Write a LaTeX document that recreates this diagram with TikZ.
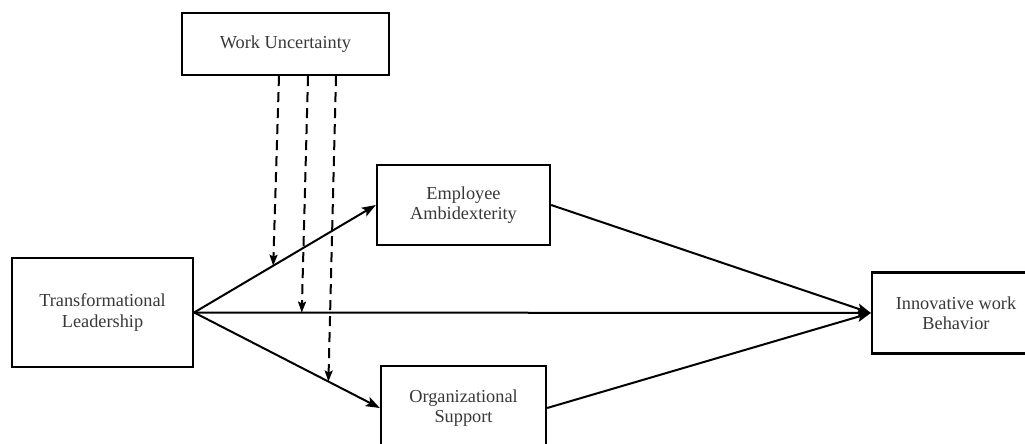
\documentclass[tikz,border=0pt]{standalone}
\usepackage{fontspec}
\setmainfont{Liberation Serif}
\usetikzlibrary{arrows.meta,calc}
\begin{document}
\begin{tikzpicture}[x=1pt,y=-1pt,
  box/.style={draw=black,line width=2.3pt,rectangle,align=center,inner sep=0pt,
    text=black!78,font=\fontsize{18.3}{20.5}\selectfont},
  conn/.style={line width=2pt,-{Stealth[length=14pt,width=10pt,inset=3pt]}},
  modarrow/.style={line width=2pt,dash pattern=on 10pt off 6pt,
    -{Stealth[length=11pt,width=8pt,inset=2pt]}}]
\useasboundingbox (0,0) rectangle (1025,444);
\clip (0,0) rectangle (1025,444);
\fill[white] (0,0) rectangle (1025,444);
\node[box,minimum width=207pt,minimum height=62pt] (WU) at (285.5,44) {Work Uncertainty};
\node[box,minimum width=181pt,minimum height=109pt] (TL) at (102.5,312.5) {Transformational\\Leadership};
\node[box,minimum width=173pt,minimum height=80pt] (EA) at (463.5,205) {Employee\\Ambidexterity};
\node[box,minimum width=165pt,minimum height=84pt] (OS) at (463.5,408) {Organizational\\Support};
\node[box,minimum width=168pt,minimum height=81pt] (IWB) at (956,313) {Innovative work\\Behavior};
\draw[conn] (TL.east) -- (EA.west);
\draw[conn] (TL.east) -- (OS.west);
\draw[conn] (TL.east) -- (IWB.west);
\draw[conn] (EA.east) -- (IWB.west);
\draw[conn] (OS.east) -- (IWB.west);
\coordinate (s1) at ($(WU.south)+(-6.5,0)$);
\coordinate (s2) at ($(WU.south)+(22.5,0)$);
\coordinate (s3) at ($(WU.south)+(50.5,0)$);
\coordinate (m1) at ($(TL.east)!0.435!(EA.west)$);
\coordinate (m2) at ($(TL.east)!0.159!(IWB.west)$);
\coordinate (m3) at ($(TL.east)!0.723!(OS.west)$);
\draw[modarrow] (s1) -- (m1);
\draw[modarrow] (s2) -- (m2);
\draw[modarrow] (s3) -- (m3);
\end{tikzpicture}
\end{document}
